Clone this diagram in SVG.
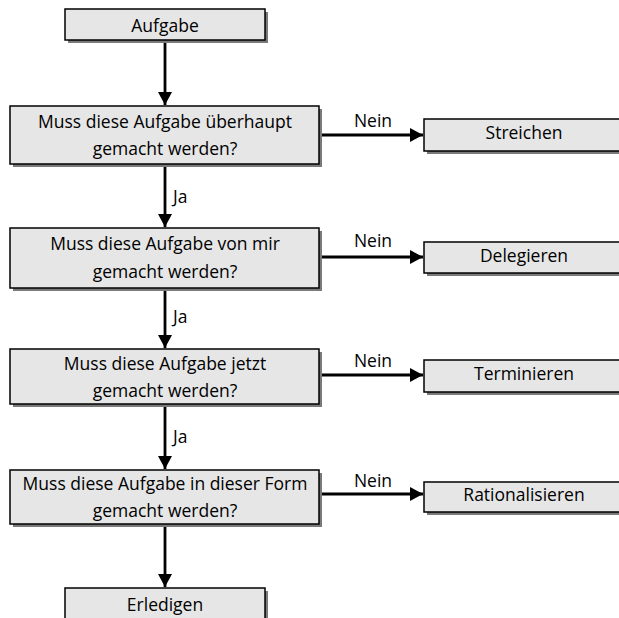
<svg xmlns="http://www.w3.org/2000/svg" width="619" height="618" viewBox="0 0 619 618">
<style>
.box{fill:#e6e6e6;stroke:#000;stroke-width:1.5}
.sh{fill:#7a7a7a}
text{font-family:"Open Sans","Noto Sans",sans-serif;font-size:17.5px;fill:#000}
.c{text-anchor:middle}
.edge{stroke:#000;stroke-width:2.8;fill:none}
</style>
<defs>
<marker id="ah" markerUnits="userSpaceOnUse" markerWidth="14" markerHeight="14" refX="13" refY="7" orient="auto">
<path d="M0,0 L13,7 L0,14 Z" fill="#000"/>
</marker>
</defs>
<g id="connectors">
<line class="edge" x1="165" y1="40" x2="165" y2="105" marker-end="url(#ah)"/>
<line class="edge" x1="165" y1="164" x2="165" y2="227" marker-end="url(#ah)"/>
<line class="edge" x1="165" y1="288" x2="165" y2="348" marker-end="url(#ah)"/>
<line class="edge" x1="165" y1="404" x2="165" y2="469" marker-end="url(#ah)"/>
<line class="edge" x1="165" y1="524" x2="165" y2="587" marker-end="url(#ah)"/>
<line class="edge" x1="319" y1="135" x2="423" y2="135" marker-end="url(#ah)"/>
<line class="edge" x1="319" y1="257" x2="423" y2="257" marker-end="url(#ah)"/>
<line class="edge" x1="319" y1="375" x2="423" y2="375" marker-end="url(#ah)"/>
<line class="edge" x1="319" y1="494" x2="423" y2="494" marker-end="url(#ah)"/>
<text x="173" y="203">Ja</text>
<text x="173" y="323">Ja</text>
<text x="173" y="443">Ja</text>
<text class="c" x="373" y="127">Nein</text>
<text class="c" x="373" y="247">Nein</text>
<text class="c" x="373" y="367">Nein</text>
<text class="c" x="373" y="487">Nein</text>
</g>
<g id="aufgabe">
<rect class="sh" x="68" y="12" width="200" height="31"/>
<rect class="box" x="65" y="9" width="200" height="31"/>
<text class="c" x="165" y="32">Aufgabe</text>
</g>
<g id="q1">
<rect class="sh" x="13" y="109" width="309" height="58"/>
<rect class="box" x="10" y="106" width="309" height="58"/>
<text class="c" x="165" y="128">Muss diese Aufgabe überhaupt</text>
<text class="c" x="165" y="155">gemacht werden?</text>
</g>
<g id="q2">
<rect class="sh" x="13" y="231" width="309" height="60"/>
<rect class="box" x="10" y="228" width="309" height="60"/>
<text class="c" x="165" y="250">Muss diese Aufgabe von mir</text>
<text class="c" x="165" y="278">gemacht werden?</text>
</g>
<g id="q3">
<rect class="sh" x="13" y="352" width="309" height="55"/>
<rect class="box" x="10" y="349" width="309" height="55"/>
<text class="c" x="165" y="370">Muss diese Aufgabe jetzt</text>
<text class="c" x="165" y="397">gemacht werden?</text>
</g>
<g id="q4">
<rect class="sh" x="13" y="473" width="309" height="54"/>
<rect class="box" x="10" y="470" width="309" height="54"/>
<text class="c" x="165" y="490">Muss diese Aufgabe in dieser Form</text>
<text class="c" x="165" y="517">gemacht werden?</text>
</g>
<g id="streichen">
<rect class="sh" x="427" y="122" width="200" height="32"/>
<rect class="box" x="424" y="119" width="200" height="32"/>
<text class="c" x="524" y="139">Streichen</text>
</g>
<g id="delegieren">
<rect class="sh" x="427" y="245" width="200" height="31"/>
<rect class="box" x="424" y="242" width="200" height="31"/>
<text class="c" x="524" y="262">Delegieren</text>
</g>
<g id="terminieren">
<rect class="sh" x="427" y="363" width="200" height="32"/>
<rect class="box" x="424" y="360" width="200" height="32"/>
<text class="c" x="524" y="380">Terminieren</text>
</g>
<g id="rationalisieren">
<rect class="sh" x="427" y="485" width="200" height="30"/>
<rect class="box" x="424" y="482" width="200" height="30"/>
<text class="c" x="524" y="501">Rationalisieren</text>
</g>
<g id="erledigen">
<rect class="sh" x="68" y="591" width="200" height="31"/>
<rect class="box" x="65" y="588" width="200" height="31"/>
<text class="c" x="165" y="611">Erledigen</text>
</g>
</svg>
